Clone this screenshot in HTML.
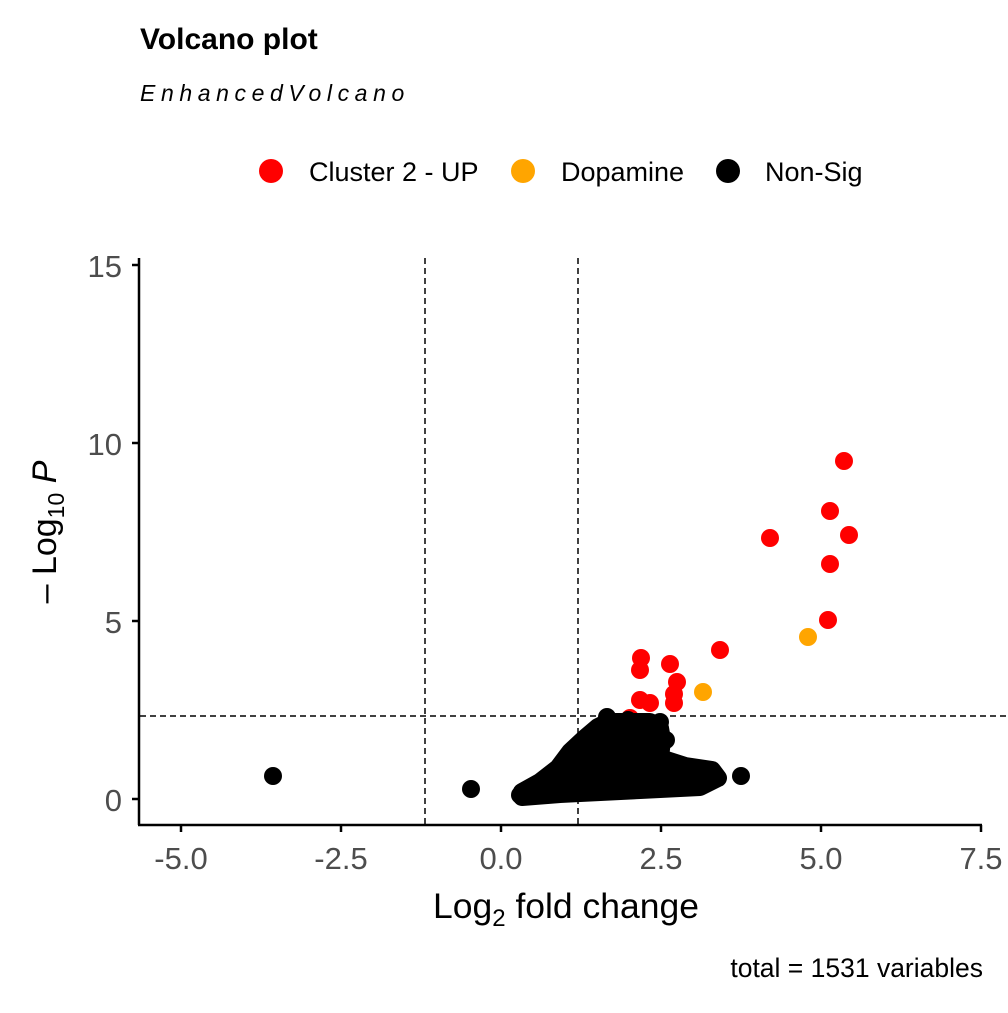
<!DOCTYPE html>
<html><head><style>body{margin:0;background:#fff}</style></head><body>
<svg width="1008" height="1008" xmlns="http://www.w3.org/2000/svg" font-family="Liberation Sans, sans-serif">
<rect width="1008" height="1008" fill="#fff"/>
<text x="140" y="49" font-size="30" font-weight="bold">Volcano plot</text>
<text x="140" y="101" font-size="23" font-style="italic" letter-spacing="5.6">EnhancedVolcano</text>
<circle cx="271" cy="171" r="12" fill="#f00"/><text x="309" y="181" font-size="27">Cluster 2 - UP</text>
<circle cx="523" cy="171" r="12" fill="#ffa500"/><text x="561" y="181" font-size="27">Dopamine</text>
<circle cx="728" cy="171" r="12" fill="#000"/><text x="765" y="181" font-size="27">Non-Sig</text>
<g stroke="#000" stroke-width="1.5" stroke-dasharray="6,4" fill="none">
<line x1="425" y1="258" x2="425" y2="824"/><line x1="578" y1="258" x2="578" y2="824"/>
<line x1="140" y1="716" x2="1008" y2="716"/></g>
<g fill="#f00"><circle cx="630" cy="718" r="9"/></g>
<g fill="#000">
<polygon stroke="#000" stroke-width="18" stroke-linejoin="round" points="522,792 540,782 558,768 570,752 585,738 598,727 608,722 650,722 660,728 662,740 660,758 685,766 712,770 718,778 700,787 640,790 560,794 522,797"/>
<circle cx="273" cy="776" r="9"/><circle cx="471" cy="789" r="9"/><circle cx="741" cy="776" r="9"/>
<circle cx="607" cy="717" r="9"/><circle cx="628" cy="720" r="9"/><circle cx="660" cy="722" r="9"/><circle cx="666" cy="740" r="9"/>
<circle cx="520" cy="795" r="9"/><circle cx="700" cy="783" r="9"/><circle cx="650" cy="786" r="9"/>
</g>
<g fill="#f00">
<circle cx="640" cy="700" r="9"/><circle cx="650" cy="703" r="9"/>
<circle cx="641" cy="658" r="9"/><circle cx="640" cy="670" r="9"/><circle cx="670" cy="664" r="9"/>
<circle cx="677" cy="682" r="9"/><circle cx="674" cy="694" r="9"/><circle cx="674" cy="703" r="9"/>
<circle cx="720" cy="650" r="9"/><circle cx="770" cy="538" r="9"/><circle cx="828" cy="620" r="9"/>
<circle cx="830" cy="564" r="9"/><circle cx="830" cy="511" r="9"/><circle cx="849" cy="535" r="9"/><circle cx="844" cy="461" r="9"/>
</g>
<g fill="#ffa500"><circle cx="703" cy="692" r="9"/><circle cx="808" cy="637" r="9"/></g>
<g stroke="#000" stroke-width="2.5"><line x1="139" y1="258" x2="139" y2="825"/><line x1="138" y1="825" x2="982" y2="825"/>
<line x1="132" y1="265" x2="139" y2="265"/><line x1="132" y1="443" x2="139" y2="443"/><line x1="132" y1="621" x2="139" y2="621"/><line x1="132" y1="799" x2="139" y2="799"/>
<line x1="181" y1="825" x2="181" y2="832"/><line x1="341" y1="825" x2="341" y2="832"/><line x1="501" y1="825" x2="501" y2="832"/><line x1="661" y1="825" x2="661" y2="832"/><line x1="821" y1="825" x2="821" y2="832"/><line x1="981" y1="825" x2="981" y2="832"/></g>
<g font-size="31" fill="#4d4d4d" text-anchor="end"><text x="122" y="277">15</text><text x="122" y="455">10</text><text x="122" y="633">5</text><text x="122" y="811">0</text></g>
<g font-size="31" fill="#4d4d4d" text-anchor="middle"><text x="181" y="869">-5.0</text><text x="341" y="869">-2.5</text><text x="501" y="869">0.0</text><text x="661" y="869">2.5</text><text x="821" y="869">5.0</text><text x="981" y="869">7.5</text></g>
<text x="566" y="918" font-size="35.5" text-anchor="middle">Log<tspan font-size="24" dy="8">2</tspan><tspan dy="-8"> fold change</tspan></text>
<text transform="translate(56,532) rotate(-90)" font-size="34" text-anchor="middle">– Log<tspan font-size="23" dy="8">10</tspan><tspan dy="-8" font-style="italic"> P</tspan></text>
<text x="983" y="977" font-size="26.5" text-anchor="end">total = 1531 variables</text>
</svg></body></html>
